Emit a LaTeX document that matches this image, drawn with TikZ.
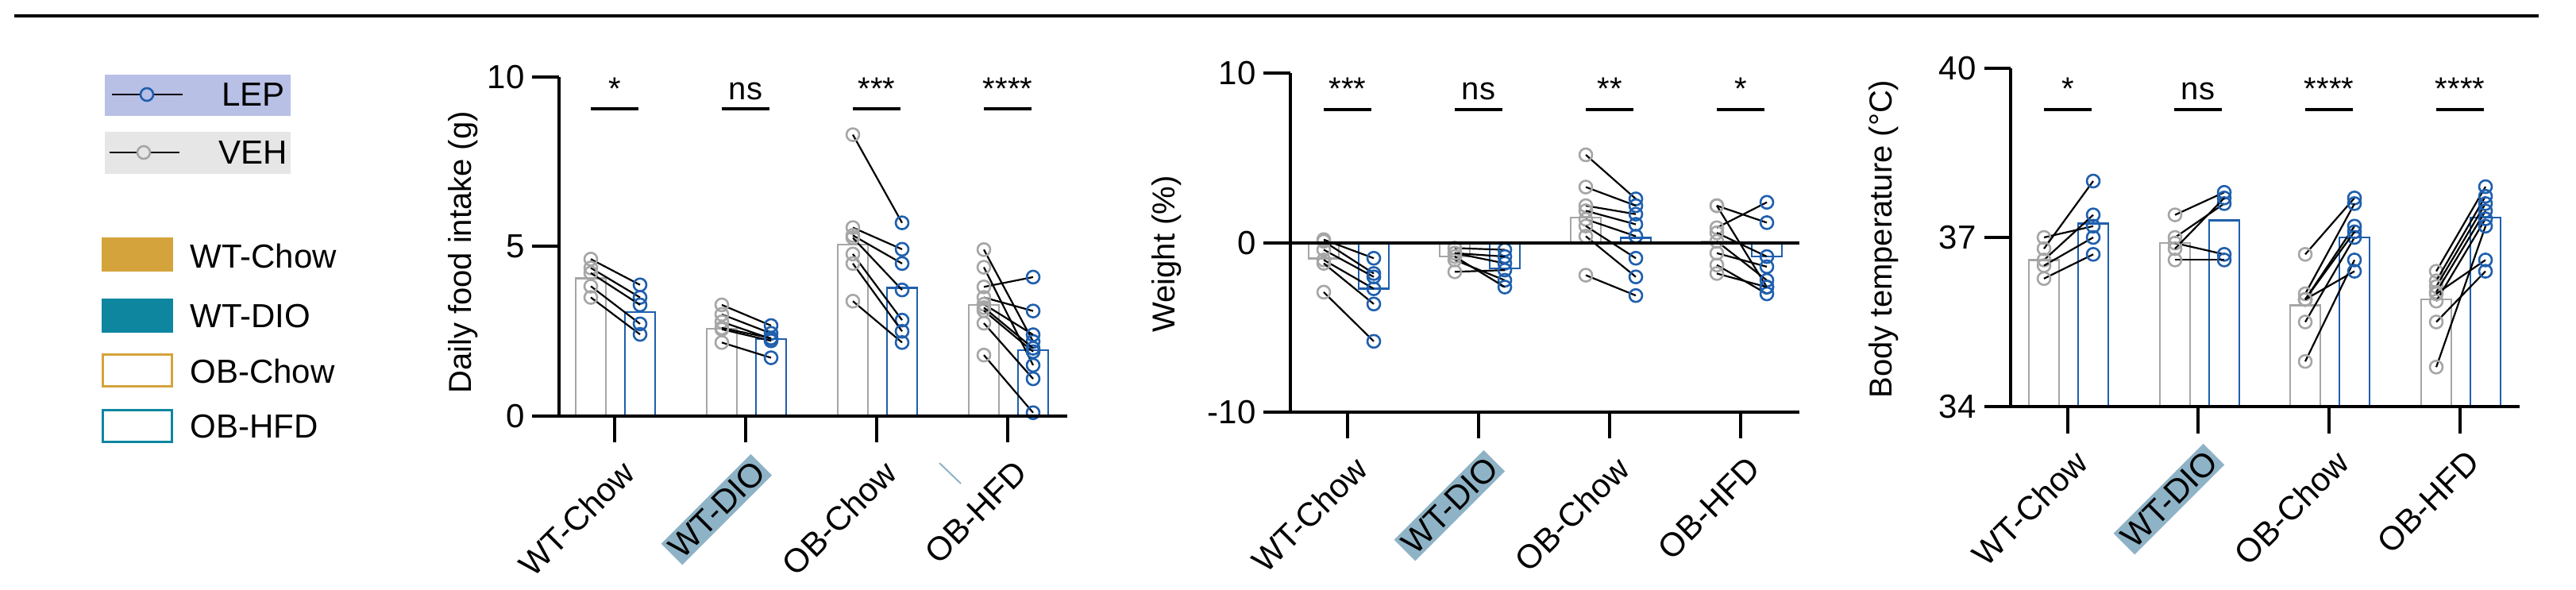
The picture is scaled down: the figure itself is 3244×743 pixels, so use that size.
\documentclass[tikz,border=0pt]{standalone}
\usepackage{fontspec}
\setmainfont{Liberation Sans}
\definecolor{vgray}{HTML}{A6A6A6}
\definecolor{lblue}{HTML}{1F5FAD}
\definecolor{lepbg}{HTML}{B8C0E6}
\definecolor{vehbg}{HTML}{E6E6E6}
\definecolor{gold}{HTML}{D4A33B}
\definecolor{teal}{HTML}{0E86A0}
\definecolor{hl}{HTML}{8FB3C6}
\tikzset{
  axis/.style={line width=3.2pt,black},
  vbar/.style={draw=vgray,line width=2.6pt},
  lbar/.style={draw=lblue,line width=2.6pt},
  vdot/.style={draw=vgray,line width=2.6pt},
  ldot/.style={draw=lblue,line width=2.6pt},
  pair/.style={line width=2.2pt,black},
  tick/.style={font=\fontsize{42}{46}\selectfont,anchor=east},
  cat/.style={font=\fontsize{42}{46}\selectfont,rotate=45,anchor=east,inner sep=4pt},
  sig/.style={font=\fontsize{40}{44}\selectfont,anchor=base},
  ylab/.style={font=\fontsize{40}{44}\selectfont,rotate=90},
  leg/.style={font=\fontsize{42}{46}\selectfont,anchor=west},
}
\newcommand{\grp}[5]{% xveh, xlep, bar veh, bar lep, pairs
  \draw[vbar] (#1-19,0) rectangle (#1+19,#3);
  \draw[lbar] (#2-19,0) rectangle (#2+19,#4);
  \foreach \a/\b in {#5} {
    \draw[pair] (#1,\a) -- (#2,\b);
    \draw[vdot] (#1,\a) circle[radius=8pt];
    \draw[ldot] (#2,\b) circle[radius=8pt];
  }
}
\begin{document}
\begin{tikzpicture}[x=1pt,y=-1pt]
\useasboundingbox (0,0) rectangle (3244,743);
\draw[line width=3.5pt] (18,20) -- (3197,20);
% legend
\fill[lepbg] (132,94) rectangle (366,146);
\fill[vehbg] (132,166) rectangle (366,219);
\draw[line width=2.2pt] (141,119) -- (230,119);
\draw[ldot,fill=lepbg] (185,119) circle[radius=8pt];
\node[leg] (tlep) at (276,119) {LEP};
\draw[line width=2.2pt] (138,192) -- (226,192);
\draw[vdot,fill=vehbg] (181,192) circle[radius=8pt];
\node[leg] (tveh) at (272,192) {VEH};
\fill[gold] (128,299) rectangle (218,342);
\fill[teal] (128,376) rectangle (218,419);
\draw[gold,line width=3pt] (129.5,446.5) rectangle (216.5,486.5);
\draw[teal,line width=3pt] (129.5,516.5) rectangle (216.5,556.5);
\node[leg] (l1) at (236,322) {WT-Chow};
\node[leg] (l2) at (236,398) {WT-DIO};
\node[leg] (l3) at (236,467) {OB-Chow};
\node[leg] (l4) at (236,537) {OB-HFD};

% ---------- Panel 1 ----------
\begin{scope}[shift={(0,524)},y=42.7pt]
  \grp{744}{806}{4.07}{3.07}{4.63/3.87,4.37/3.5,4.22/3.28,3.83/2.72,3.5/2.41}
  \grp{909}{971}{2.58}{2.27}{3.28/2.67,3.0/2.44,2.78/2.28,2.56/2.22,2.17/1.72,2.6/2.3}
  \grp{1074}{1136}{5.06}{3.78}{8.3/5.7,5.56/4.92,5.33/4.5,5.26/3.72,4.78/2.83,4.5/2.5,3.39/2.17}
  \grp{1239}{1301}{3.28}{1.94}{4.91/2.2,4.39/1.5,3.81/4.1,3.5/3.1,3.3/2.4,3.11/1.9,2.74/1.1,1.8/0.1,3.2/2.0}
\end{scope}
\draw[axis] (704,97) -- (704,524) -- (1344,524);
\foreach \y/\t in {97/10,310/5,524/0} {\draw[axis] (670,\y) -- (704,\y); \node[tick] at (664,\y) {\t};}
\foreach \x in {774,939,1104,1269} \draw[axis] (\x,524) -- (\x,557);
\foreach \x/\s in {774/*,939/ns,1104/***,1269/****} {\draw[axis] (\x-30,137) -- (\x+30,137); \node[sig] at (\x,126) {\s};}
\node[ylab] (y1) at (583,318) {Daily food intake (g)};
\node[cat] (c11) at (794,585) {WT-Chow};
\node[cat,fill=hl] (c12) at (959,585) {WT-DIO};
\node[cat] (c13) at (1124,585) {OB-Chow};
\node[cat] (c14) at (1289,585) {OB-HFD};
\draw[hl,line width=2pt] (1183,583) -- (1210,609);

% ---------- Panel 2 ----------
\begin{scope}[shift={(0,306)},y=21.35pt]
  \grp{1667}{1730}{-0.9}{-2.7}{0.1/-1.8,0.2/-0.9,-0.4/-2.0,-1.0/-2.7,-1.2/-3.6,-2.9/-5.8}
  \grp{1832}{1895}{-0.8}{-1.5}{-0.3/-0.4,-0.6/-1.2,-1.0/-2.2,-1.7/-1.6,-0.8/-2.6,-0.6/-0.8}
  \grp{1997}{2060}{1.5}{0.3}{5.2/2.6,3.3/2.2,2.2/1.7,1.9/1.1,1.4/0.4,1.0/-0.9,0.4/-2.0,-1.9/-3.1}
  \grp{2162}{2225}{0.1}{-0.8}{2.2/1.2,2.2/-2.6,0.9/2.4,0.6/-0.8,0.1/-2.2,-0.6/-1.4,-1.3/-3.0,-1.8/-2.6}
\end{scope}
\draw[axis] (1625,92) -- (1625,519) -- (2266,519);
\draw[axis] (1625,306) -- (2266,306);
\foreach \y/\t in {92/10,306/0,519/-10} {\draw[axis] (1591,\y) -- (1625,\y); \node[tick] at (1585,\y) {\t};}
\foreach \x in {1697,1862,2027,2192} \draw[axis] (\x,519) -- (\x,552);
\foreach \x/\s in {1697/***,1862/ns,2027/**,2192/*} {\draw[axis] (\x-30,138) -- (\x+30,138); \node[sig] at (\x,126) {\s};}
\node[ylab] (y2) at (1469,320) {Weight (\%)};
\node[cat] (c21) at (1717,580) {WT-Chow};
\node[cat,fill=hl] (c22) at (1882,580) {WT-DIO};
\node[cat] (c23) at (2047,580) {OB-Chow};
\node[cat] (c24) at (2212,580) {OB-HFD};

% ---------- Panel 3 ----------
\begin{scope}[shift={(0,512)},y=71pt]
  \grp{2574}{2636}{2.6}{3.25}{3.0/3.2,2.8/4.0,2.6/3.4,2.5/3.0,2.27/2.7}
  \grp{2739}{2801}{2.9}{3.3}{3.4/3.8,3.0/3.6,2.9/2.7,2.8/3.7,2.6/2.6}
  \grp{2903}{2965}{1.8}{3.0}{2.7/3.7,2.0/3.6,1.9/3.2,1.5/3.0,0.8/2.6,1.9/3.1,1.9/2.4}
  \grp{3068}{3130}{1.9}{3.35}{2.4/3.9,2.23/3.73,2.13/3.6,2.03/3.47,1.87/3.33,1.5/2.4,0.7/3.2,2.0/2.6}
\end{scope}
\draw[axis] (2532,86) -- (2532,512) -- (3173,512);
\foreach \y/\t in {86/40,299/37,512/34} {\draw[axis] (2499,\y) -- (2532,\y); \node[tick] at (2492,\y) {\t};}
\foreach \x in {2604,2768,2933,3098} \draw[axis] (\x,512) -- (\x,546);
\foreach \x/\s in {2604/*,2768/ns,2933/****,3098/****} {\draw[axis] (\x-30,138) -- (\x+30,138); \node[sig] at (\x,126) {\s};}
\node[ylab] (y3) at (2372,301) {Body temperature (°C)};
\node[cat] (c31) at (2624,572) {WT-Chow};
\node[cat,fill=hl] (c32) at (2788,572) {WT-DIO};
\node[cat] (c33) at (2953,572) {OB-Chow};
\node[cat] (c34) at (3118,572) {OB-HFD};
\end{tikzpicture}
\end{document}
